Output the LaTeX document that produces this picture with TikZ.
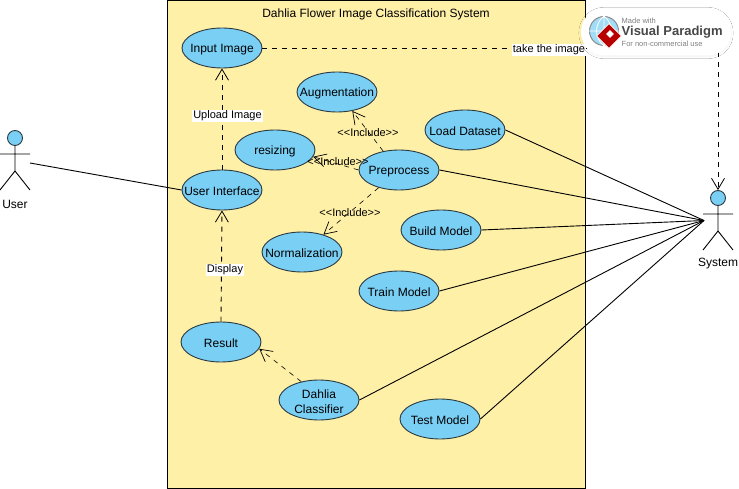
\documentclass[tikz,border=0pt]{standalone}
\usepackage{fontspec}
\setmainfont{Liberation Sans}
\usetikzlibrary{arrows.meta,shapes.geometric,shadows.blur}
\definecolor{sysfill}{HTML}{FFF0A8}
\definecolor{ucfill}{HTML}{7ACFF5}
\definecolor{ucline}{HTML}{2B3A40}
\tikzset{
  uc/.style={ellipse,draw=ucline,fill=ucfill,line width=0.9pt,minimum width=80pt,minimum height=40pt,inner sep=0pt},
  uct/.style={font=\fontsize{12}{15}\selectfont,align=center,inner sep=0pt,yshift=-1.5pt},
  assoc/.style={draw=black,line width=0.9pt},
  dep/.style={draw=black,line width=0.9pt,dash pattern=on 5pt off 5pt,-{Straight Barb[length=11pt,width=13pt,line width=0.8pt]}},
  inc/.style={draw=black,line width=0.6pt,dash pattern=on 5pt off 5pt,-{Straight Barb[length=12pt,width=13pt,line width=0.7pt]}},
  lab/.style={font=\fontsize{11}{13}\selectfont,inner sep=1pt},
  wlab/.style={lab,fill=white},
  actorlab/.style={font=\fontsize{12}{14}\selectfont,inner sep=0pt},
  limb/.style={draw=black,line width=0.9pt},
  headc/.style={circle,draw=ucline,fill=ucfill,line width=0.9pt,minimum size=15pt,inner sep=0pt},
}
\begin{document}
\begin{tikzpicture}[x=1pt,y=-1pt]
\useasboundingbox (0,0) rectangle (739,489);
\fill[white] (0,0) rectangle (739,489);
\node[draw=black,fill=sysfill,line width=0.9pt,minimum width=418.5pt,minimum height=488pt,inner sep=0pt,anchor=north west] (sys) at (166.5,0.3) {};
\node[font=\fontsize{12}{14}\selectfont,inner sep=0pt] (title) at (376,14.7) {Dahlia Flower Image Classification System};

\node[uc,label={[uct]center:Input Image}] (input) at (222,48) {};
\node[uc,label={[uct]center:Augmentation}] (aug) at (337,92) {};
\node[uc,label={[uct]center:resizing}] (res) at (275,150) {};
\node[uc,label={[uct]center:User Interface}] (ui) at (222,190) {};
\node[uc,label={[uct]center:Preprocess}] (pre) at (399,170) {};
\node[uc,label={[uct]center:Load Dataset}] (load) at (465,130) {};
\node[uc,label={[uct]center:Build Model}] (build) at (441,230) {};
\node[uc,label={[uct]center:Normalization}] (norm) at (302,252) {};
\node[uc,label={[uct]center:Train Model}] (train) at (399,291) {};
\node[uc,label={[uct]center:Result}] (result) at (221,342) {};
\node[uc,label={[uct]center:Dahlia\\Classifier}] (dahlia) at (319,400) {};
\node[uc,label={[uct]center:Test Model}] (test) at (440,419) {};

% User actor
\node[headc] (uhead) at (15,138) {};
\coordinate (uhip) at (15,171);
\coordinate (uarmL) at (0,154);
\coordinate (uarmR) at (30,154);
\coordinate (ulegL) at (0,190);
\coordinate (ulegR) at (30,190);
\coordinate (uhand) at (30,163);
\draw[limb] (uhead) -- (uhip) (uarmL) -- (uarmR) (ulegL) -- (uhip) -- (ulegR);
\node[actorlab] (ulab) at (15,204) {User};

% System actor
\node[headc] (shead) at (718,198) {};
\coordinate (ship) at (718,231);
\coordinate (sarmL) at (703,214);
\coordinate (sarmR) at (733,214);
\coordinate (slegL) at (703,250);
\coordinate (slegR) at (733,250);
\coordinate (shand) at (704,220.5);
\draw[limb] (shead) -- (ship) (sarmL) -- (sarmR) (slegL) -- (ship) -- (slegR);
\node[actorlab] (slab) at (718,264) {System};

% associations
\draw[assoc] (uhand) -- (ui.west);
\draw[assoc] (load.east) -- (shand);
\draw[assoc] (pre.east) -- (shand);
\draw[assoc] (build.east) -- (shand);
\draw[assoc] (train.east) -- (shand);
\draw[assoc] (dahlia.east) -- (shand);
\draw[assoc] (test.east) -- (shand);

% dependencies
\draw[dep] (ui.north) -- (input.south);
\node[wlab] (l1) at (227.5,116) {Upload Image};
\draw[dep] (result.north) -- (ui.south);
\node[wlab] (l2) at (225,270) {Display};
\coordinate (corner) at (718,48);
\draw[dep] (input.east) -- (corner) -- (shead.north);
\node[wlab] (l3) at (549,50) {take the image};
\draw[inc] (dahlia.134) -- (result.-10);

% includes
\draw[inc] (pre.130) -- (aug.-51);
\draw[inc] (pre.west) -- (res.-10);
\draw[inc] (pre.221) -- (norm.39);
\node[lab] (i1) at (368,133) {<{}<Include>{}>};
\node[lab] (i2) at (338,162) {<{}<Include>{}>};
\node[lab] (i3) at (350,213) {<{}<Include>{}>};

% watermark
\node[draw=none,fill=white,rounded corners=23pt,minimum width=150pt,minimum height=47pt,blur shadow={shadow blur steps=8,shadow xshift=0pt,shadow yshift=-1pt,shadow opacity=6},inner sep=0pt] (wm) at (656,32) {};
\node[circle,draw=black!45,fill=ucfill!70,line width=1pt,minimum size=29pt,inner sep=0pt] (globe) at (604,31) {};
\draw[white,line width=0.8pt] (globe.west) -- (globe.east) (globe.north) -- (globe.south)
  (globe.north) .. controls (594,24) and (594,38) .. (globe.south)
  (globe.north) .. controls (614,24) and (614,38) .. (globe.south);
\node[diamond,aspect=1,fill=red!72!black,draw=white,line width=0.6pt,minimum size=25pt,inner sep=0pt] (logo) at (609,36) {};
\node[diamond,aspect=1,fill=white,minimum size=8pt,inner sep=0pt] (logoin) at (610,34) {};
\node[anchor=west,inner sep=0pt,font=\fontsize{7.5}{9}\selectfont,text=black!50] (wm1) at (621.5,20.5) {Made with};
\node[anchor=west,inner sep=0pt,font=\fontsize{13}{14}\selectfont\bfseries,text=black!72] (wm2) at (621.5,32) {Visual Paradigm};
\node[anchor=west,inner sep=0pt,font=\fontsize{7.5}{9}\selectfont,text=black!50] (wm3) at (621.5,43.5) {For non-commercial use};
\end{tikzpicture}
\end{document}
